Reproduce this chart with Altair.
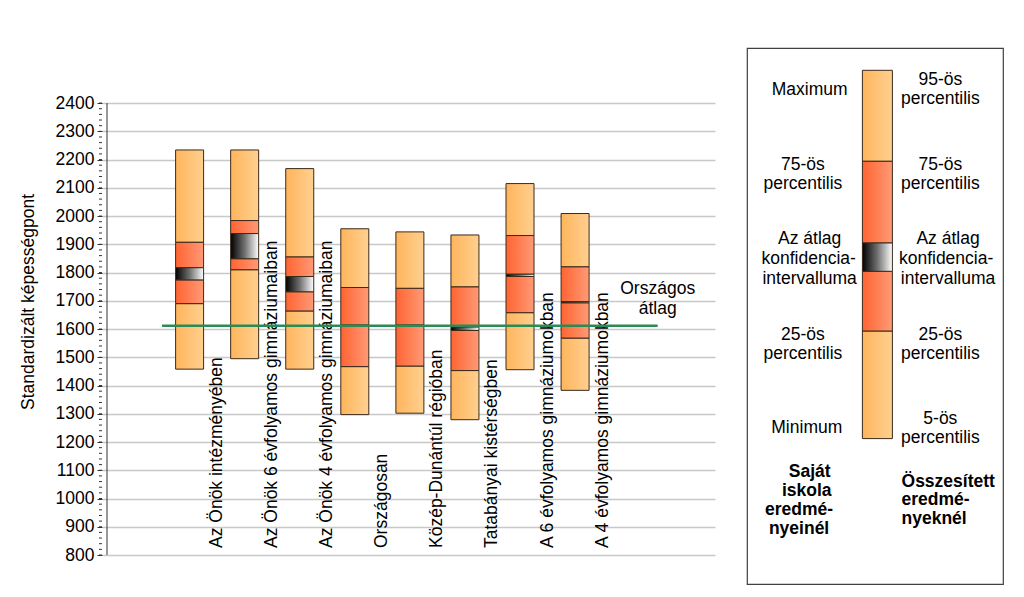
import altair as alt
import pandas as pd

# ---------------- data ----------------
categories = [
    "Az Önök intézményében",
    "Az Önök 6 évfolyamos gimnáziumaiban",
    "Az Önök 4 évfolyamos gimnáziumaiban",
    "Országosan",
    "Közép-Dunántúl régióban",
    "Tatabányai kistérségben",
    "A 6 évfolyamos gimnáziumokban",
    "A 4 évfolyamos gimnáziumokban",
]
minimum = [1458, 1495, 1458, 1297, 1302, 1279, 1456, 1383]   # min / 5th percentile
p25 = [1690, 1810, 1664, 1467, 1469, 1453, 1658, 1568]
ci_low = [1774, 1849, 1732, 1609, 1609, 1595, 1786, 1693]
ci_high = [1817, 1938, 1786, 1614, 1614, 1607, 1794, 1697]
p75 = [1907, 1984, 1855, 1747, 1744, 1749, 1931, 1820]
maximum = [2234, 2234, 2168, 1955, 1944, 1933, 2115, 2009]  # max / 95th percentile
national_avg = 1612
national_label = "Országos\nátlag"

y_ticks = list(range(800, 2401, 100))
minor_ticks = list(range(800, 2401, 20))
y_title = "Standardizált képességpont"

# legend key (positions inside the legend box, px from its top-left)
legend_kinds = ["outer", "inner", "ci", "inner", "outer"]
legend_edges = [22.3, 113.3, 195.0, 223.3, 283.0, 390.6]
legend_bar_x = 130.5

legend_text = ["Maximum", "75-ös", "percentilis", "Az átlag", "konfidencia-", "intervalluma",
               "25-ös", "percentilis", "Minimum",
               "95-ös", "percentilis", "75-ös", "percentilis", "Az átlag", "konfidencia-",
               "intervalluma", "25-ös", "percentilis", "5-ös", "percentilis"]
legend_tx = [60, 53, 53, 60, 59, 60, 53, 53, 57,
             196, 196, 196, 196, 204, 202, 204, 196, 196, 196, 196]
legend_ty = [46.6, 122.3, 141.3, 196.3, 216.3, 235.6, 292.3, 310.6, 385,
             37.3, 56.3, 122.3, 141.3, 196.3, 216.3, 235.6, 292.3, 310.6, 375.6, 394.6]

legend_bold_c = ["Saját", "iskola", "eredmé-", "nyeinél"]
legend_bold_c_x = [60, 57, 49, 49]
legend_bold_c_y = [429, 448.3, 467.3, 485.6]
legend_bold_l = ["Összesített", "eredmé-", "nyeknél"]
legend_bold_l_x = [155.6, 155.6, 155.6]
legend_bold_l_y = [439, 457.3, 475.6]

# ---------------- tables ----------------
idx = list(range(1, len(categories) + 1))
kinds = ["outer", "inner", "ci", "inner", "outer"]
rows = []
for i, c in enumerate(categories):
    b = [minimum[i], p25[i], ci_low[i], ci_high[i], p75[i], maximum[i]]
    for k in range(5):
        rows.append({"cat": c, "idx": idx[i], "kind": kinds[k], "lo": b[k], "hi": b[k + 1]})
segs = pd.DataFrame(rows)
labels = pd.DataFrame({"cat": categories, "idx": idx, "base": [800] * len(categories)})
avg_df = pd.DataFrame({"x1": [0.5], "x2": [9.5], "y": [national_avg], "t": [national_label]})
axis_df = pd.DataFrame({"x": [-0.5], "y1": [y_ticks[0]], "y2": [y_ticks[-1]]})
minor_df = pd.DataFrame({"v": minor_ticks, "x": [-0.5] * len(minor_ticks)})

FONT = "Liberation Sans"
FS = 17.5
xs = alt.Scale(domain=[-0.5, 10.45], nice=False, zero=False)
ys = alt.Scale(domain=[800, 2595], nice=False, zero=False)


def grad(c0, c1, mid=None):
    stops = [alt.GradientStop(color=c0, offset=0)]
    if mid:
        stops.append(alt.GradientStop(color=mid, offset=0.5))
    stops.append(alt.GradientStop(color=c1, offset=1))
    return alt.Gradient(gradient="linear", stops=stops, x1=0, x2=1, y1=0, y2=0)


FILLS = {
    "outer": grad("#FFB55C", "#FFD090"),
    "inner": grad("#FF6432", "#FF9A76"),
    "ci": grad("#000000", "#FFFFFF", "#707070"),
}
STROKE = "#3a2a1a"

y_axis = alt.Axis(values=y_ticks, format="d", grid=True, gridColor="#c8c8c8", gridWidth=1.5,
                  domain=False, tickSize=5, tickColor="#333333", tickWidth=1,
                  labelFont=FONT, labelFontSize=FS, labelColor="black", labelPadding=3,
                  title=y_title, titleFont=FONT, titleFontSize=FS, titleFontWeight="normal",
                  titleColor="black", titlePadding=18)


def Y(field):
    return alt.Y(field, scale=ys, axis=y_axis, title=y_title)


def X(field):
    return alt.X(field, scale=xs, axis=None)


layers = []
for kind in ["outer", "inner", "ci"]:
    layers.append(
        alt.Chart(segs).transform_filter(alt.datum.kind == kind)
        .mark_bar(size=28, fill=FILLS[kind], stroke=STROKE, strokeWidth=1)
        .encode(x=X("idx:Q"), y=Y("lo:Q"), y2="hi:Q")
    )

axis_line = alt.Chart(axis_df).mark_rule(color="#333333", strokeWidth=1).encode(
    x=X("x:Q"), y=Y("y1:Q"), y2="y2:Q")

minor = alt.Chart(minor_df).mark_rule(color="#333333", strokeWidth=1).encode(
    x=alt.value(-3), x2=alt.value(0), y=Y("v:Q"))

cat_text = alt.Chart(labels).transform_calculate(lx="datum.idx + 0.5").mark_text(
    angle=270, align="left", baseline="middle", dx=7, font=FONT, fontSize=FS, color="black"
).encode(x=X("lx:Q"), y=Y("base:Q"), text="cat:N")

avg_line = alt.Chart(avg_df).mark_rule(color="#2b8a55", strokeWidth=2.5).encode(
    x=X("x1:Q"), x2="x2:Q", y=Y("y:Q"))

avg_text = alt.Chart(avg_df).mark_text(
    align="center", baseline="alphabetic", dy=-32, lineBreak="\n", lineHeight=20,
    font=FONT, fontSize=FS, color="black"
).encode(x=X("x2:Q"), y=Y("y:Q"), text="t:N")

main = alt.layer(*layers, axis_line, minor, cat_text, avg_line, avg_text).properties(
    width=613, height=507,
    view=alt.ViewBackground(stroke="transparent", strokeWidth=0))

# ---------------- legend panel ----------------
lx = alt.Scale(domain=[0, 256], nice=False, zero=False)
ly = alt.Scale(domain=[0, 536], nice=False, zero=False, reverse=True)
leg_segs = pd.DataFrame({"kind": legend_kinds, "lo": legend_edges[:-1], "hi": legend_edges[1:],
                         "x": [legend_bar_x] * 5})
leg_layers = []
for kind in ["outer", "inner", "ci"]:
    leg_layers.append(
        alt.Chart(leg_segs).transform_filter(alt.datum.kind == kind)
        .mark_bar(size=30, fill=FILLS[kind], stroke=STROKE, strokeWidth=1)
        .encode(x=alt.X("x:Q", scale=lx, axis=None),
                y=alt.Y("lo:Q", scale=ly, axis=None), y2="hi:Q")
    )

t_norm = alt.Chart(pd.DataFrame({"t": legend_text, "x": legend_tx, "y": legend_ty})).mark_text(
    align="center", baseline="alphabetic", font=FONT, fontSize=FS, color="black"
).encode(x=alt.X("x:Q", scale=lx, axis=None), y=alt.Y("y:Q", scale=ly, axis=None), text="t:N")
t_bold_c = alt.Chart(pd.DataFrame({"t": legend_bold_c, "x": legend_bold_c_x, "y": legend_bold_c_y})).mark_text(
    align="center", baseline="alphabetic", font=FONT, fontSize=FS, fontWeight="bold", color="black"
).encode(x=alt.X("x:Q", scale=lx, axis=None), y=alt.Y("y:Q", scale=ly, axis=None), text="t:N")
t_bold_l = alt.Chart(pd.DataFrame({"t": legend_bold_l, "x": legend_bold_l_x, "y": legend_bold_l_y})).mark_text(
    align="left", baseline="alphabetic", font=FONT, fontSize=FS, fontWeight="bold", color="black"
).encode(x=alt.X("x:Q", scale=lx, axis=None), y=alt.Y("y:Q", scale=ly, axis=None), text="t:N")

legend = alt.layer(*leg_layers, t_norm, t_bold_c, t_bold_l).properties(
    width=256, height=536,
    view=alt.ViewBackground(stroke="#404040", strokeWidth=1.2))

chart = alt.hconcat(main, legend, spacing=31).properties(
    padding={"left": 11, "top": 39, "right": 0, "bottom": 0}
).configure(background="white")

chart.save("out.html", embed_options={"renderer": "svg", "actions": False})
